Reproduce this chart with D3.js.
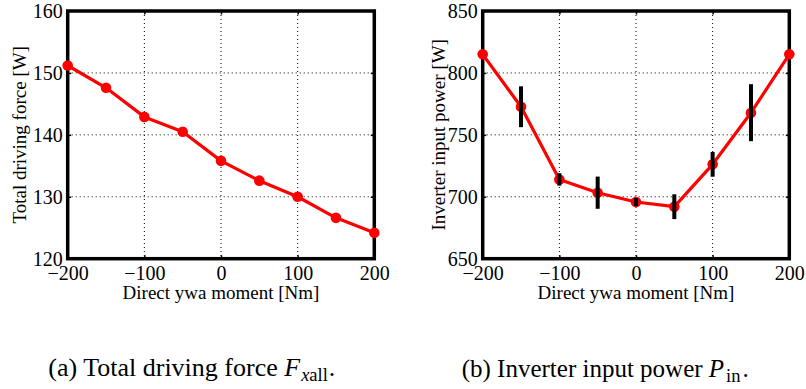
<!DOCTYPE html>
<html>
<head>
<meta charset="utf-8">
<script src="https://cdn.jsdelivr.net/npm/d3@7"></script>
<style>
  html, body { margin: 0; padding: 0; background: #fff; }
  svg { display: block; }
  svg text { font-family: "Liberation Serif", "Nimbus Roman", "Times", "DejaVu Serif", serif !important; fill: #000; }
</style>
</head>
<body>
<svg id="chart" width="806" height="389"></svg>
<script>
// ---- data ----
const moments = [-200, -150, -100, -50, 0, 50, 100, 150, 200];
const drivingForce = [151.2, 147.6, 142.9, 140.5, 135.8, 132.6, 130.0, 126.6, 124.2];
const inputPower = [815, 772.7, 714, 703.3, 695.8, 692, 726.2, 767.9, 815];
const inputPowerErr = [0, 16.5, 5, 13, 3.2, 10, 10, 23, 0];
const xTicks = [-200, -100, 0, 100, 200];
const yTicksForce = [120, 130, 140, 150, 160];
const yTicksPower = [650, 700, 750, 800, 850];
const xLabel = "Direct ywa moment [Nm]";
const yLabelForce = "Total driving force [W]";
const yLabelPower = "Inverter input power [W]";

const svg = d3.select("#chart");
svg.append("rect").attr("width", 806).attr("height", 389).attr("fill", "#fff");

function fmt(v) { return v < 0 ? "\u2212" + Math.abs(v) : String(v); }

function panel(opts) {
  const { left, right, top, bottom, xDomain, yDomain, yTicks, values, errors, yLabel, yLabelX } = opts;
  const x = d3.scaleLinear().domain(xDomain).range([left, right]);
  const y = d3.scaleLinear().domain(yDomain).range([bottom, top]);
  const g = svg.append("g");
  const pts = values.map((v, i) => ({ m: moments[i], v: v, e: errors ? errors[i] : 0 }));

  // grid
  g.selectAll(".vg").data(xTicks.slice(1, -1)).join("line")
    .attr("x1", d => x(d)).attr("x2", d => x(d)).attr("y1", top).attr("y2", bottom)
    .attr("stroke", "#000").attr("stroke-width", 1).attr("stroke-dasharray", "1,3");
  g.selectAll(".hg").data(yTicks.slice(1, -1)).join("line")
    .attr("y1", d => y(d)).attr("y2", d => y(d)).attr("x1", left).attr("x2", right)
    .attr("stroke", "#000").attr("stroke-width", 1).attr("stroke-dasharray", "1,3");

  // axes (inner ticks on all four sides)
  const tl = 3.5;
  const ax = g.append("g").attr("transform", `translate(0,${bottom})`)
    .call(d3.axisBottom(x).tickValues(xTicks).tickSizeInner(-tl).tickSizeOuter(0).tickPadding(8).tickFormat(fmt));
  const axT = g.append("g").attr("transform", `translate(0,${top})`)
    .call(d3.axisTop(x).tickValues(xTicks).tickSizeInner(-tl).tickSizeOuter(0).tickFormat(""));
  const ay = g.append("g").attr("transform", `translate(${left},0)`)
    .call(d3.axisLeft(y).tickValues(yTicks).tickSizeInner(-tl).tickSizeOuter(0).tickPadding(5).tickFormat(fmt));
  const ayR = g.append("g").attr("transform", `translate(${right},0)`)
    .call(d3.axisRight(y).tickValues(yTicks).tickSizeInner(-tl).tickSizeOuter(0).tickFormat(""));
  [ax, axT, ay, ayR].forEach(a => {
    a.attr("font-family", null);
    a.select(".domain").remove();
    a.selectAll(".tick line").attr("stroke", "#000").attr("stroke-width", 1.5);
    a.selectAll("text").style("font-size", "20px").attr("fill", "#000");
  });
  ax.selectAll("text").attr("dy", null).attr("y", 21);
  ay.selectAll("text").attr("dy", "0.34em").attr("x", -5);

  // frame
  g.append("rect").attr("x", left).attr("y", top).attr("width", right - left).attr("height", bottom - top)
    .attr("fill", "none").attr("stroke", "#000").attr("stroke-width", 3.5);

  // axis labels
  g.append("text").attr("x", (left + right) / 2).attr("y", 298.5).attr("text-anchor", "middle")
    .style("font-size", "19px").text(xLabel);
  g.append("text").attr("transform", `translate(${yLabelX},${(top + bottom) / 2}) rotate(-90)`)
    .attr("text-anchor", "middle").style("font-size", "19px").text(yLabel);

  // line + markers
  const line = d3.line().x(d => x(d.m)).y(d => y(d.v));
  g.append("path").datum(pts).attr("d", line).attr("fill", "none")
    .attr("stroke", "#ff0000").attr("stroke-width", 3.2).attr("stroke-linejoin", "round");
  g.selectAll(".pt").data(pts).join("circle")
    .attr("cx", d => x(d.m)).attr("cy", d => y(d.v)).attr("r", 5.3)
    .attr("fill", "#ff0000");

  // error bars
  g.selectAll(".err").data(pts.filter(d => d.e > 0)).join("line")
    .attr("x1", d => x(d.m)).attr("x2", d => x(d.m))
    .attr("y1", d => y(d.v - d.e)).attr("y2", d => y(d.v + d.e))
    .attr("stroke", "#000").attr("stroke-width", 4);
}

panel({ left: 67.7, right: 374.3, top: 11, bottom: 258.7, xDomain: [-200, 200], yDomain: [120, 160],
  yTicks: yTicksForce, values: drivingForce, errors: null, yLabel: yLabelForce, yLabelX: 26 });
panel({ left: 482.7, right: 789.3, top: 11, bottom: 258.7, xDomain: [-200, 200], yDomain: [650, 850],
  yTicks: yTicksPower, values: inputPower, errors: inputPowerErr, yLabel: yLabelPower, yLabelX: 444.5 });

// captions
const capA = svg.append("text").attr("x", 48.3).attr("y", 376).style("font-size", "26px");
capA.append("tspan").text("(a) Total driving force ");
capA.append("tspan").style("font-style", "italic").text("F");
capA.append("tspan").attr("dy", 5).attr("dx", 1).style("font-size", "18.5px").style("font-style", "italic").text("x");
capA.append("tspan").style("font-size", "18.5px").text("all");
capA.append("tspan").attr("dy", -5).attr("dx", 1).text(".");

const capB = svg.append("text").attr("x", 461.7).attr("y", 376.5).style("font-size", "25px");
capB.append("tspan").text("(b) Inverter input power ");
capB.append("tspan").style("font-style", "italic").text("P");
capB.append("tspan").attr("dy", 5).attr("dx", 2).style("font-size", "18.5px").text("in");
capB.append("tspan").attr("dy", -5).attr("dx", 2).text(".");
</script>
</body>
</html>
